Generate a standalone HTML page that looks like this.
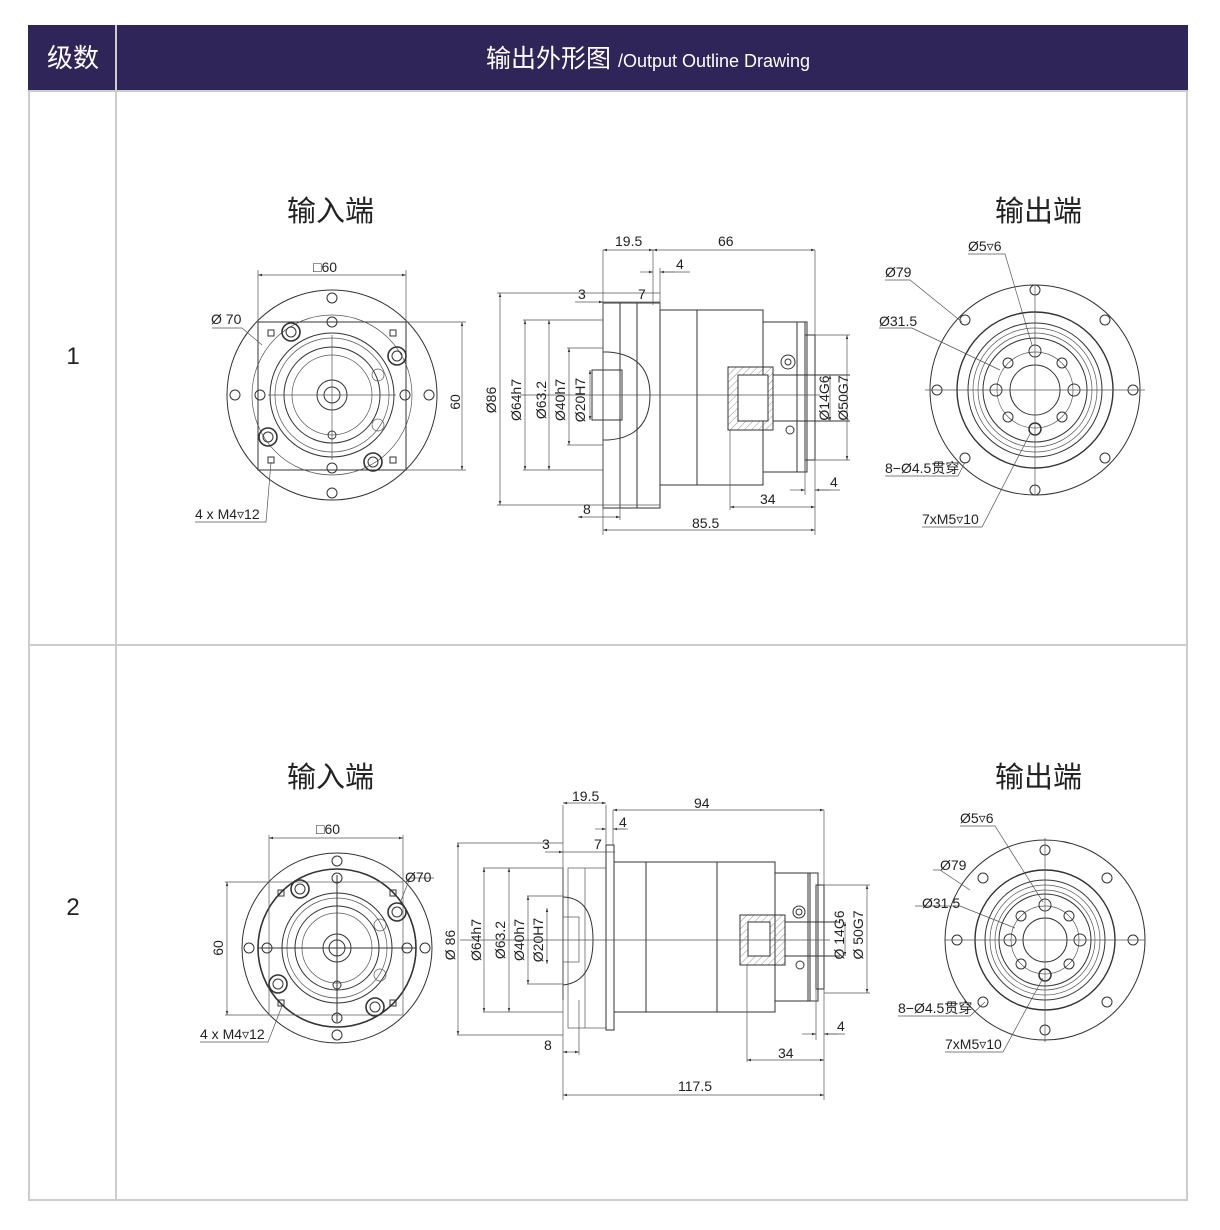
<!DOCTYPE html>
<html><head><meta charset="utf-8"><style>
html,body{margin:0;padding:0;background:#fff;width:1220px;height:1230px;overflow:hidden}
svg{display:block}
text{font-family:"Liberation Sans","Noto Sans CJK SC",sans-serif;fill:#222}
.l{stroke:#333;stroke-width:1;fill:none}
.t{stroke:#555;stroke-width:0.7;fill:none}
.d{font-size:14px}
.h{stroke:#444;stroke-width:0.6;fill:none}
</style></head><body>
<svg width="1220" height="1230" viewBox="0 0 1220 1230" xmlns="http://www.w3.org/2000/svg">
<defs>
<marker id="a" viewBox="0 0 10 10" refX="10" refY="5" markerWidth="6" markerHeight="6" orient="auto-start-reverse"><path d="M0,2 L10,5 L0,8z" fill="#333"/></marker>
<pattern id="hat" width="5" height="5" patternUnits="userSpaceOnUse" patternTransform="rotate(45)"><line x1="0" y1="0" x2="0" y2="5" stroke="#666" stroke-width="0.7"/></pattern>
</defs>
<!-- table -->
<rect x="28" y="25" width="1160" height="66" fill="#2f2558"/>
<line x1="116" y1="25" x2="116" y2="1200" stroke="#ccc" stroke-width="2"/>
<rect x="29" y="91" width="1158" height="1109" fill="none" stroke="#ccc" stroke-width="2"/>
<line x1="28" y1="645" x2="1188" y2="645" stroke="#ccc" stroke-width="2"/>
<text x="73" y="67" font-size="26" text-anchor="middle" style="fill:#fff">级数</text>
<text x="486" y="67" font-size="25" style="fill:#fff">输出外形图 <tspan font-size="18">/Output Outline Drawing</tspan></text>
<text x="73" y="364" font-size="24" text-anchor="middle">1</text>
<text x="73" y="915" font-size="24" text-anchor="middle">2</text>

<!-- titles -->
<text x="287" y="221" font-size="29">输入端</text>
<text x="995" y="221" font-size="29">输出端</text>
<text x="287" y="787" font-size="29">输入端</text>
<text x="995" y="787" font-size="29">输出端</text>

<!-- ========== ROW 1 INPUT VIEW ========== -->
<g class="l">
<circle cx="332" cy="395" r="105"/>
<circle cx="332" cy="395" r="80" class="t"/>
<rect x="258" y="322" width="148" height="148"/>
<circle cx="332" cy="395" r="62"/><circle cx="332" cy="395" r="57" class="t"/>
<circle cx="332" cy="395" r="48"/><circle cx="332" cy="395" r="40" class="t"/>
<circle cx="332" cy="395" r="15"/><circle cx="332" cy="395" r="8"/>
<circle cx="332" cy="298" r="5"/><circle cx="332" cy="493" r="5"/><circle cx="235" cy="395" r="5"/><circle cx="429" cy="395" r="5"/>
<circle cx="332" cy="322" r="5"/><circle cx="332" cy="468" r="5"/><circle cx="260" cy="395" r="5"/><circle cx="405" cy="395" r="5"/>
<circle cx="291" cy="332" r="9" stroke-width="1.6"/><circle cx="291" cy="332" r="5"/>
<circle cx="397" cy="356" r="9" stroke-width="1.6"/><circle cx="397" cy="356" r="5"/>
<circle cx="268" cy="437" r="9" stroke-width="1.6"/><circle cx="268" cy="437" r="5"/>
<circle cx="373" cy="462" r="9" stroke-width="1.6"/><circle cx="373" cy="462" r="5"/>
<circle cx="378" cy="375" r="6" class="t"/><circle cx="378" cy="425" r="6" class="t"/>
<rect x="268" y="330" width="6" height="6"/><rect x="390" y="330" width="6" height="6"/><rect x="268" y="457" width="6" height="6"/><rect x="390" y="457" width="6" height="6"/>
<line x1="268" y1="395" x2="396" y2="395" class="t"/><line x1="332" y1="335" x2="332" y2="460" class="t"/>
<circle cx="332" cy="435" r="4"/>
</g>
<g class="t">
<line x1="258" y1="322" x2="258" y2="270"/><line x1="406" y1="322" x2="406" y2="270"/>
<line x1="258" y1="275" x2="406" y2="275" marker-start="url(#a)" marker-end="url(#a)"/>
<line x1="406" y1="322" x2="466" y2="322"/><line x1="406" y1="470" x2="466" y2="470"/>
<line x1="462" y1="322" x2="462" y2="470" marker-start="url(#a)" marker-end="url(#a)"/>
<polyline points="212,328 242,328 262,345"/>
<polyline points="195,522 266,522 271,462"/>
</g>
<text x="313" y="272" class="d">□60</text>
<text x="211" y="324" class="d">Ø 70</text>
<text x="460" y="402" class="d" transform="rotate(-90 460 402)" text-anchor="middle">60</text>
<text x="195" y="519" class="d">4 x M4▿12</text>

<!-- ========== ROW 1 SIDE VIEW ========== -->
<g class="l">
<rect x="603" y="303" width="57" height="205"/>
<line x1="620" y1="303" x2="620" y2="508"/><line x1="637" y1="303" x2="637" y2="508"/>
<rect x="660" y="310" width="103" height="175"/>
<line x1="697" y1="310" x2="697" y2="485"/>
<rect x="763" y="322" width="42" height="150"/>
<rect x="797" y="322" width="10" height="150"/>
<rect x="805" y="335" width="10" height="125"/>
<path d="M603,352 L608,352 Q650,355 650,395 Q650,437 608,440 L603,440"/>
<rect x="592" y="370" width="30" height="50"/>
<rect x="728" y="367" width="45" height="63" fill="url(#hat)"/>
<rect x="738" y="375" width="30" height="46" fill="#fff"/>
<line x1="773" y1="375" x2="850" y2="375"/><line x1="773" y1="421" x2="850" y2="421"/>
<circle cx="788" cy="362" r="7"/><circle cx="788" cy="362" r="3"/>
<circle cx="790" cy="430" r="4"/>
</g>
<line x1="520" y1="395" x2="820" y2="395" class="t"/>
<g class="t">
<line x1="603" y1="303" x2="603" y2="535"/><line x1="603" y1="250" x2="603" y2="303"/>
<line x1="815" y1="250" x2="815" y2="335"/><line x1="815" y1="460" x2="815" y2="535"/>
<line x1="603" y1="250" x2="653" y2="250" marker-start="url(#a)" marker-end="url(#a)"/>
<line x1="653" y1="250" x2="815" y2="250" marker-start="url(#a)" marker-end="url(#a)"/>
<line x1="653" y1="250" x2="653" y2="305"/><line x1="660" y1="268" x2="660" y2="310"/>
<line x1="640" y1="272" x2="653" y2="272" marker-end="url(#a)"/><line x1="675" y1="272" x2="660" y2="272" marker-end="url(#a)"/><line x1="660" y1="272" x2="690" y2="272"/>
<line x1="575" y1="302" x2="603" y2="302" marker-end="url(#a)"/><line x1="603" y1="302" x2="660" y2="302"/>
<line x1="497" y1="293" x2="660" y2="293"/><line x1="497" y1="505" x2="660" y2="505"/>
<line x1="500" y1="293" x2="500" y2="505" marker-start="url(#a)" marker-end="url(#a)"/>
<line x1="523" y1="320" x2="603" y2="320"/><line x1="523" y1="470" x2="603" y2="470"/>
<line x1="525" y1="320" x2="525" y2="470" marker-start="url(#a)" marker-end="url(#a)"/>
<line x1="549" y1="320" x2="549" y2="470" marker-start="url(#a)" marker-end="url(#a)"/>
<line x1="567" y1="348" x2="603" y2="348"/><line x1="567" y1="445" x2="603" y2="445"/>
<line x1="569" y1="348" x2="569" y2="445" marker-start="url(#a)" marker-end="url(#a)"/>
<line x1="590" y1="370" x2="590" y2="420" marker-start="url(#a)" marker-end="url(#a)"/>
<line x1="578" y1="517" x2="620" y2="517" marker-start="url(#a)" marker-end="url(#a)"/><line x1="620" y1="440" x2="620" y2="520"/>
<line x1="603" y1="530" x2="815" y2="530" marker-start="url(#a)" marker-end="url(#a)"/>
<line x1="730" y1="430" x2="730" y2="510"/>
<line x1="730" y1="507" x2="815" y2="507" marker-start="url(#a)" marker-end="url(#a)"/>
<line x1="805" y1="460" x2="805" y2="495"/>
<line x1="790" y1="490" x2="805" y2="490" marker-end="url(#a)"/><line x1="830" y1="490" x2="815" y2="490" marker-end="url(#a)"/><line x1="815" y1="490" x2="840" y2="490"/>
<line x1="815" y1="335" x2="850" y2="335"/><line x1="815" y1="460" x2="850" y2="460"/>
<line x1="847" y1="335" x2="847" y2="460" marker-start="url(#a)" marker-end="url(#a)"/>
<line x1="830" y1="375" x2="830" y2="421" marker-start="url(#a)" marker-end="url(#a)"/>
</g>
<text x="615" y="246" class="d">19.5</text>
<text x="718" y="246" class="d">66</text>
<text x="676" y="269" class="d">4</text>
<text x="578" y="299" class="d">3</text>
<text x="638" y="299" class="d">7</text>
<text x="496" y="400" class="d" transform="rotate(-90 496 400)" text-anchor="middle">Ø86</text>
<text x="521" y="400" class="d" transform="rotate(-90 521 400)" text-anchor="middle">Ø64h7</text>
<text x="546" y="400" class="d" transform="rotate(-90 546 400)" text-anchor="middle">Ø63.2</text>
<text x="565" y="400" class="d" transform="rotate(-90 565 400)" text-anchor="middle">Ø40h7</text>
<text x="585" y="400" class="d" transform="rotate(-90 585 400)" text-anchor="middle">Ø20H7</text>
<text x="829" y="398" class="d" transform="rotate(-90 829 398)" text-anchor="middle">Ø14G6</text>
<text x="848" y="398" class="d" transform="rotate(-90 848 398)" text-anchor="middle">Ø50G7</text>
<text x="583" y="514" class="d">8</text>
<text x="692" y="528" class="d">85.5</text>
<text x="760" y="504" class="d">34</text>
<text x="830" y="487" class="d">4</text>

<!-- ========== ROW 1 OUTPUT VIEW ========== -->
<g class="l">
<circle cx="1035" cy="390" r="105"/>
<circle cx="1035" cy="390" r="78" stroke-width="1.4"/>
<circle cx="1035" cy="390" r="67"/><circle cx="1035" cy="390" r="62" class="t"/><circle cx="1035" cy="390" r="57" class="t"/><circle cx="1035" cy="390" r="52"/>
<circle cx="1035" cy="390" r="38" class="t"/>
<circle cx="1035" cy="390" r="25"/>
<circle cx="1035" cy="290" r="5"/><circle cx="1035" cy="490" r="5"/><circle cx="937" cy="390" r="5"/><circle cx="1133" cy="390" r="5"/>
<circle cx="965" cy="320" r="5"/><circle cx="1105" cy="320" r="5"/><circle cx="965" cy="458" r="5"/><circle cx="1105" cy="458" r="5"/>
<circle cx="1035" cy="351" r="6"/><circle cx="1035" cy="429" r="6" stroke-width="1.5"/><circle cx="996" cy="390" r="6"/><circle cx="1074" cy="390" r="6"/>
<circle cx="1008" cy="363" r="5"/><circle cx="1062" cy="363" r="5"/><circle cx="1008" cy="417" r="5"/><circle cx="1062" cy="417" r="5"/>
</g>
<g class="t">
<line x1="925" y1="390" x2="1145" y2="390"/><line x1="1035" y1="285" x2="1035" y2="495"/>
<polyline points="885,280 910,280 962,322"/>
<polyline points="879,328 912,328 1000,370"/>
<polyline points="968,254 1005,254 1032,345"/>
<polyline points="885,476 958,476 965,462"/>
<polyline points="922,527 982,527 1031,432"/>
</g>
<text x="885" y="277" class="d">Ø79</text>
<text x="879" y="326" class="d">Ø31.5</text>
<text x="968" y="251" class="d">Ø5▿6</text>
<text x="885" y="473" class="d">8−Ø4.5贯穿</text>
<text x="922" y="524" class="d">7xM5▿10</text>

<!-- ========== ROW 2 INPUT VIEW ========== -->
<g class="l">
<circle cx="337" cy="948" r="95"/>
<circle cx="337" cy="948" r="79" stroke-width="1.6"/>
<rect x="269" y="882" width="134" height="133" class="t"/>
<circle cx="337" cy="948" r="55"/><circle cx="337" cy="948" r="50" class="t"/>
<circle cx="337" cy="948" r="42"/><circle cx="337" cy="948" r="35" class="t"/>
<circle cx="337" cy="948" r="14"/><circle cx="337" cy="948" r="8"/>
<circle cx="337" cy="861" r="5"/><circle cx="337" cy="1035" r="5"/><circle cx="249" cy="948" r="5"/><circle cx="425" cy="948" r="5"/>
<circle cx="337" cy="878" r="5"/><circle cx="337" cy="1018" r="5"/><circle cx="267" cy="948" r="5"/><circle cx="407" cy="948" r="5"/>
<circle cx="300" cy="889" r="9" stroke-width="1.6"/><circle cx="300" cy="889" r="5"/>
<circle cx="397" cy="912" r="9" stroke-width="1.6"/><circle cx="397" cy="912" r="5"/>
<circle cx="278" cy="984" r="9" stroke-width="1.6"/><circle cx="278" cy="984" r="5"/>
<circle cx="375" cy="1007" r="9" stroke-width="1.6"/><circle cx="375" cy="1007" r="5"/>
<circle cx="380" cy="925" r="6" class="t"/><circle cx="380" cy="975" r="6" class="t"/>
<rect x="278" y="890" width="6" height="6"/><rect x="390" y="890" width="6" height="6"/><rect x="278" y="1000" width="6" height="6"/><rect x="390" y="1000" width="6" height="6"/>
<line x1="258" y1="948" x2="416" y2="948"/><line x1="337" y1="875" x2="337" y2="1022"/>
<circle cx="337" cy="985" r="4"/>
</g>
<g class="t">
<line x1="269" y1="882" x2="269" y2="835"/><line x1="403" y1="882" x2="403" y2="835"/>
<line x1="269" y1="838" x2="403" y2="838" marker-start="url(#a)" marker-end="url(#a)"/>
<line x1="225" y1="882" x2="269" y2="882"/><line x1="225" y1="1015" x2="269" y2="1015"/>
<line x1="227" y1="882" x2="227" y2="1015" marker-start="url(#a)" marker-end="url(#a)"/>
<polyline points="434,878 410,878 400,903"/>
<polyline points="200,1042 268,1042 282,1006"/>
</g>
<text x="316" y="834" class="d">□60</text>
<text x="405" y="882" class="d">Ø70</text>
<text x="223" y="948" class="d" transform="rotate(-90 223 948)" text-anchor="middle">60</text>
<text x="200" y="1039" class="d">4 x M4▿12</text>

<!-- ========== ROW 2 SIDE VIEW ========== -->
<g class="l">
<line x1="563" y1="868" x2="563" y2="1000"/>
<rect x="568" y="868" width="38" height="160" class="t"/>
<line x1="585" y1="868" x2="585" y2="1028" class="t"/>
<rect x="606" y="845" width="8" height="185"/>
<rect x="614" y="862" width="161" height="150"/>
<line x1="646" y1="862" x2="646" y2="1012"/><line x1="717" y1="862" x2="717" y2="1012"/>
<rect x="775" y="873" width="35" height="128"/>
<rect x="808" y="873" width="10" height="128"/>
<rect x="816" y="885" width="8" height="104"/>
<path d="M563,897 Q593,898 593,940 Q593,982 563,985"/>
<rect x="563" y="917" width="16" height="45" class="t"/>
<rect x="740" y="915" width="45" height="50" fill="url(#hat)"/>
<rect x="748" y="922" width="22" height="34" fill="#fff"/>
<line x1="785" y1="922" x2="840" y2="922"/><line x1="785" y1="956" x2="840" y2="956"/>
<circle cx="799" cy="912" r="6"/><circle cx="799" cy="912" r="3"/>
<circle cx="800" cy="965" r="4"/>
</g>
<line x1="460" y1="940" x2="830" y2="940" class="t"/>
<g class="t">
<line x1="563" y1="805" x2="563" y2="1100"/>
<line x1="606" y1="805" x2="606" y2="845"/><line x1="613" y1="810" x2="613" y2="845"/>
<line x1="824" y1="810" x2="824" y2="885"/><line x1="824" y1="989" x2="824" y2="1100"/>
<line x1="563" y1="803" x2="606" y2="803" marker-start="url(#a)" marker-end="url(#a)"/>
<line x1="613" y1="810" x2="824" y2="810" marker-start="url(#a)" marker-end="url(#a)"/>
<line x1="595" y1="829" x2="606" y2="829" marker-end="url(#a)"/><line x1="625" y1="829" x2="613" y2="829" marker-end="url(#a)"/><line x1="613" y1="829" x2="628" y2="829"/>
<line x1="545" y1="852" x2="563" y2="852" marker-end="url(#a)"/><line x1="563" y1="852" x2="615" y2="852"/>
<line x1="457" y1="843" x2="563" y2="843"/><line x1="457" y1="1035" x2="563" y2="1035"/>
<line x1="458" y1="843" x2="458" y2="1035" marker-start="url(#a)" marker-end="url(#a)"/>
<line x1="483" y1="868" x2="563" y2="868"/><line x1="483" y1="1012" x2="563" y2="1012"/>
<line x1="484" y1="868" x2="484" y2="1012" marker-start="url(#a)" marker-end="url(#a)"/>
<line x1="509" y1="868" x2="509" y2="1012" marker-start="url(#a)" marker-end="url(#a)"/>
<line x1="527" y1="896" x2="563" y2="896"/><line x1="527" y1="984" x2="563" y2="984"/>
<line x1="528" y1="896" x2="528" y2="984" marker-start="url(#a)" marker-end="url(#a)"/>
<line x1="547" y1="908" x2="547" y2="964" marker-start="url(#a)" marker-end="url(#a)"/>
<line x1="563" y1="1052" x2="579" y2="1052" marker-start="url(#a)" marker-end="url(#a)"/><line x1="579" y1="1000" x2="579" y2="1055"/>
<line x1="563" y1="1095" x2="824" y2="1095" marker-start="url(#a)" marker-end="url(#a)"/>
<line x1="747" y1="965" x2="747" y2="1062"/>
<line x1="747" y1="1060" x2="824" y2="1060" marker-start="url(#a)" marker-end="url(#a)"/>
<line x1="816" y1="989" x2="816" y2="1040"/>
<line x1="802" y1="1034" x2="816" y2="1034" marker-end="url(#a)"/><line x1="838" y1="1034" x2="824" y2="1034" marker-end="url(#a)"/><line x1="824" y1="1034" x2="845" y2="1034"/>
<line x1="824" y1="885" x2="870" y2="885"/><line x1="824" y1="993" x2="870" y2="993"/>
<line x1="867" y1="885" x2="867" y2="993" marker-start="url(#a)" marker-end="url(#a)"/>
<line x1="845" y1="922" x2="845" y2="956" marker-start="url(#a)" marker-end="url(#a)"/>
</g>
<text x="572" y="801" class="d">19.5</text>
<text x="694" y="808" class="d">94</text>
<text x="619" y="827" class="d">4</text>
<text x="542" y="849" class="d">3</text>
<text x="594" y="849" class="d">7</text>
<text x="455" y="945" class="d" transform="rotate(-90 455 945)" text-anchor="middle">Ø 86</text>
<text x="481" y="940" class="d" transform="rotate(-90 481 940)" text-anchor="middle">Ø64h7</text>
<text x="505" y="940" class="d" transform="rotate(-90 505 940)" text-anchor="middle">Ø63.2</text>
<text x="524" y="940" class="d" transform="rotate(-90 524 940)" text-anchor="middle">Ø40h7</text>
<text x="543" y="940" class="d" transform="rotate(-90 543 940)" text-anchor="middle">Ø20H7</text>
<text x="844" y="935" class="d" transform="rotate(-90 844 935)" text-anchor="middle">Ø 14G6</text>
<text x="863" y="935" class="d" transform="rotate(-90 863 935)" text-anchor="middle">Ø 50G7</text>
<text x="544" y="1050" class="d">8</text>
<text x="678" y="1091" class="d">117.5</text>
<text x="778" y="1058" class="d">34</text>
<text x="837" y="1031" class="d">4</text>

<!-- ========== ROW 2 OUTPUT VIEW ========== -->
<g class="l">
<circle cx="1045" cy="940" r="100"/>
<circle cx="1045" cy="940" r="70" stroke-width="1.4"/>
<circle cx="1045" cy="940" r="60"/><circle cx="1045" cy="940" r="55" class="t"/><circle cx="1045" cy="940" r="50" class="t"/><circle cx="1045" cy="940" r="46"/>
<circle cx="1045" cy="940" r="34" class="t"/>
<circle cx="1045" cy="940" r="22"/>
<circle cx="1045" cy="850" r="5"/><circle cx="1045" cy="1030" r="5"/><circle cx="957" cy="940" r="5"/><circle cx="1133" cy="940" r="5"/>
<circle cx="983" cy="878" r="5"/><circle cx="1107" cy="878" r="5"/><circle cx="983" cy="1002" r="5"/><circle cx="1107" cy="1002" r="5"/>
<circle cx="1045" cy="905" r="6"/><circle cx="1045" cy="975" r="6" stroke-width="1.5"/><circle cx="1010" cy="940" r="6"/><circle cx="1080" cy="940" r="6"/>
<circle cx="1021" cy="916" r="5"/><circle cx="1069" cy="916" r="5"/><circle cx="1021" cy="964" r="5"/><circle cx="1069" cy="964" r="5"/>
</g>
<g class="t">
<line x1="945" y1="940" x2="1145" y2="940"/><line x1="1045" y1="838" x2="1045" y2="1042"/>
<polyline points="933,870 940,870 970,890"/>
<polyline points="915,906 960,906 1015,928"/>
<polyline points="960,826 995,826 1043,902"/>
<polyline points="898,1016 970,1016 985,1002"/>
<polyline points="945,1052 1003,1052 1043,978"/>
</g>
<text x="940" y="870" class="d">Ø79</text>
<text x="922" y="908" class="d">Ø31.5</text>
<text x="960" y="823" class="d">Ø5▿6</text>
<text x="898" y="1013" class="d">8−Ø4.5贯穿</text>
<text x="945" y="1049" class="d">7xM5▿10</text>
</svg>
</body></html>
